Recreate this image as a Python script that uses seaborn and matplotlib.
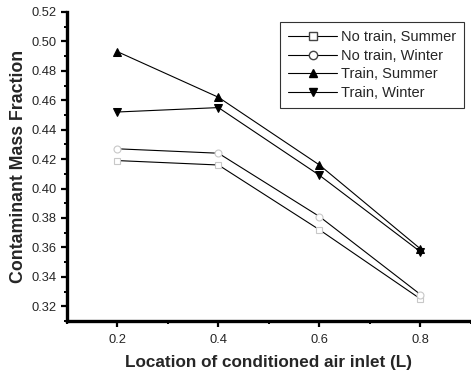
import numpy as np
import pandas as pd
import matplotlib
matplotlib.use("Agg")
import matplotlib.pyplot as plt
import seaborn as sns
from matplotlib.ticker import MultipleLocator, FormatStrFormatter
from matplotlib.lines import Line2D

locations = [0.2, 0.4, 0.6, 0.8]
no_train_summer = [0.419, 0.416, 0.372, 0.325]
no_train_winter = [0.427, 0.424, 0.381, 0.328]
train_summer = [0.493, 0.462, 0.416, 0.359]
train_winter = [0.452, 0.455, 0.409, 0.357]
series_names = ["No train, Summer", "No train, Winter", "Train, Summer", "Train, Winter"]

rows = []
for name, vals in zip(series_names, [no_train_summer, no_train_winter, train_summer, train_winter]):
    for x, v in zip(locations, vals):
        rows.append({"L": x, "frac": v, "series": name})
df = pd.DataFrame(rows)

sns.set_theme(style="ticks")
plt.rcParams["font.family"] = ["Liberation Sans", "DejaVu Sans"]

fig = plt.figure(figsize=(4.71, 3.72), dpi=100)
ax = fig.add_axes([0.142, 0.137, 0.858, 0.831])

markers = {"No train, Summer": "s", "No train, Winter": "o",
           "Train, Summer": "^", "Train, Winter": "v"}
palette = {n: "black" for n in series_names}
sns.lineplot(data=df, x="L", y="frac", hue="series", style="series",
             markers=markers, dashes=False, palette=palette, ax=ax,
             linewidth=0.8, markersize=6, legend=False)

for line, name in zip(ax.get_lines(), series_names):
    if name.startswith("No train"):
        line.set_markerfacecolor("white")
        line.set_markeredgecolor("#c8c8c8")
        line.set_markeredgewidth(0.8)
        line.set_markersize(5)
    else:
        line.set_markerfacecolor("black")
        line.set_markeredgecolor("black")

handles = []
for name in series_names:
    if name.startswith("No train"):
        h = Line2D([], [], color="black", lw=0.8, marker=markers[name],
                   markerfacecolor="white", markeredgecolor="#444444", markersize=6)
    else:
        h = Line2D([], [], color="black", lw=0.8, marker=markers[name],
                   markerfacecolor="black", markeredgecolor="black", markersize=6)
    handles.append(h)
leg = ax.legend(handles, series_names, loc="upper right", bbox_to_anchor=(0.983, 0.968),
                frameon=True, fancybox=False, fontsize=10.5, handlelength=3.3,
                handletextpad=0.3, borderpad=0.55, labelspacing=0.33, edgecolor="black",
                borderaxespad=0.0)
leg.get_frame().set_linewidth(0.8)

ax.set_xlim(0.1, 0.9)
ax.set_ylim(0.31, 0.52)
ax.xaxis.set_major_locator(MultipleLocator(0.2))
ax.xaxis.set_minor_locator(MultipleLocator(0.1))
ax.yaxis.set_major_locator(MultipleLocator(0.02))
ax.yaxis.set_minor_locator(MultipleLocator(0.01))
ax.xaxis.set_major_formatter(FormatStrFormatter("%.1f"))
ax.yaxis.set_major_formatter(FormatStrFormatter("%.2f"))
ax.set_xticks([0.2, 0.4, 0.6, 0.8])

ax.tick_params(axis="both", which="major", labelsize=9.3, length=4, width=1.6, direction="out", color="black")
ax.tick_params(axis="x", which="major", pad=5)
ax.tick_params(axis="both", which="minor", length=2.5, width=1.4, direction="out", color="black")

for s in ["top", "right"]:
    ax.spines[s].set_visible(False)
for s in ["left", "bottom"]:
    ax.spines[s].set_linewidth(2.4)
    ax.spines[s].set_color("black")

ax.set_xlabel("Location of conditioned air inlet (L)", fontsize=12.3, fontweight="bold", labelpad=7)
ax.set_ylabel("Contaminant Mass Fraction", fontsize=12.8, fontweight="bold", labelpad=3)

fig.savefig("out.png", dpi=100)
